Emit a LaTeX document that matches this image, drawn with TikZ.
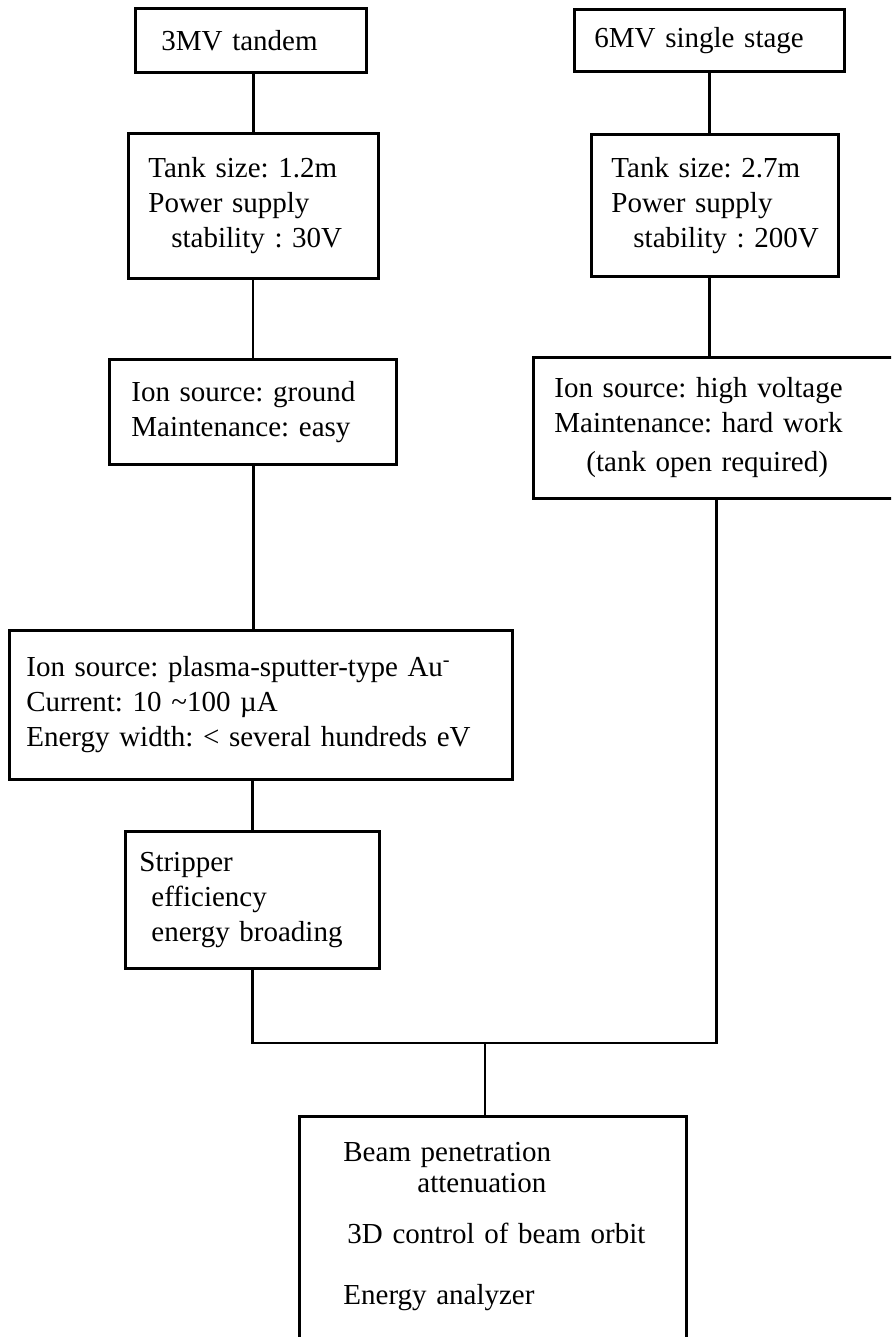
\documentclass[tikz,border=0pt]{standalone}
\usepackage{fontspec}
\setmainfont{Liberation Serif}
\usepackage{tikz}

\begin{document}
\begin{tikzpicture}[x=0.5pt,y=-0.5pt,
  font=\fontsize{14.5}{17.5}\selectfont\frenchspacing,
  box/.style={draw,line width=1.4pt,anchor=north west,align=left,inner ysep=0pt},
  link/.style={line width=1.4pt}]
  \useasboundingbox (0,0) rectangle (891,1337);
  \clip (0,0) rectangle (891,1337);
  % 3MV branch
  \node[box,inner xsep=13pt,text width=89.5pt,minimum height=32pt] (tand) at (134,7) {3MV tandem};
  \node[box,inner xsep=10pt,text width=105pt,minimum height=72.5pt] (tankA) at (127,132)
    {Tank size: 1.2m\\Power supply\\\hspace*{11.5pt}stability : 30V};
  \node[box,inner xsep=11pt,text width=121.5pt,minimum height=52.5pt] (srcA) at (108,358)
    {Ion source: ground\\Maintenance: easy};
  \node[box,inner xsep=8.5pt,text width=234.5pt,minimum height=74.5pt] (plasma) at (8,629)
    {Ion source: plasma-sputter-type Au\textsuperscript{-}\\Current: 10 \textasciitilde100 µA\\Energy width: < several hundreds eV};
  \node[box,inner xsep=7pt,text width=113pt,minimum height=68.5pt] (strip) at (124,830)
    {Stripper\\\hspace*{6pt}efficiency\\\hspace*{6pt}energy broading};
  % 6MV branch
  \node[box,inner xsep=10pt,text width=115pt,minimum height=31pt] (single) at (573,8) {6MV single stage};
  \node[box,inner xsep=10pt,text width=103.5pt,minimum height=71pt] (tankB) at (590,133)
    {Tank size: 2.7m\\Power supply\\\mbox{\hspace*{11pt}stability : 200V}};
  \node[box,inner xsep=10.5pt,text width=162pt,minimum height=70.5pt] (srcB) at (532,356)
    {Ion source: high voltage\\Maintenance: hard work\\[2pt]\hspace*{16pt}(tank open required)};
  % common part
  \node[box,inner xsep=22pt,inner ysep=13pt,text width=149.5pt,text depth=120pt] (beam) at (298,1115)
    {Beam penetration\\[-2pt]\hspace*{37pt}attenuation\\[8pt]\mbox{\hspace*{2pt}3D control of beam orbit}\\[13pt]Energy analyzer};
  \coordinate (join) at (485,1043);
  \draw[link] (tankA.north) -- (tankA.north |- tand.south);
  \draw[link] (srcA.north) -- (srcA.north |- tankA.south);
  \draw[link] (tankA.south |- srcA.south) -- (tankA.south |- plasma.north);
  \draw[link] (strip.north) -- (strip.north |- plasma.south);
  \draw[link] (single.south) -- (single.south |- tankB.north);
  \draw[link] (single.south |- tankB.south) -- (single.south |- srcB.north);
  \draw[link] (strip.south) |- (join) -| (srcB.south);
  \draw[link] (join) -- (join |- beam.north);
\end{tikzpicture}
\end{document}
